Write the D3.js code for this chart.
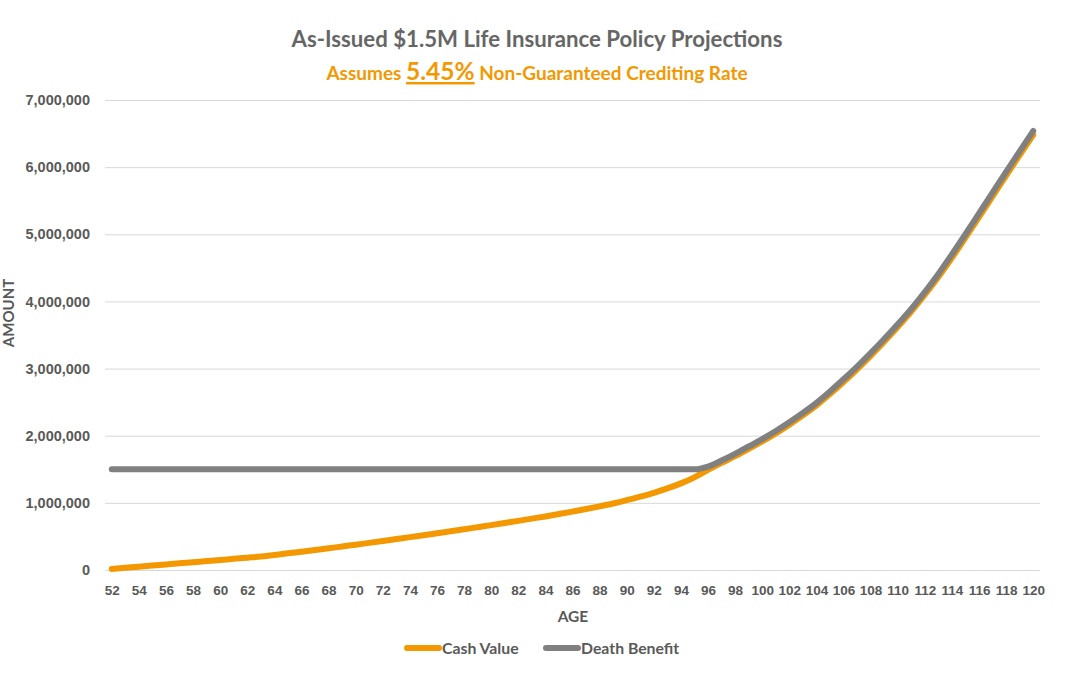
<!DOCTYPE html>
<html>
<head>
<meta charset="utf-8">
<script src="https://cdn.jsdelivr.net/npm/d3@7"></script>
<style>
  html, body { margin: 0; padding: 0; background: #fff; }
  svg { display: block; font-family: Lato, "Open Sans", sans-serif; }
</style>
</head>
<body>
<svg id="chart" width="1080" height="675"></svg>
<script>
// ages on the category axis
const ages = [52, 53, 54, 55, 56, 57, 58, 59, 60, 61, 62, 63, 64, 65, 66, 67, 68, 69, 70,
              71, 72, 73, 74, 75, 76, 77, 78, 79, 80, 81, 82, 83, 84, 85, 86, 87, 88, 89,
              90, 91, 92, 93, 94, 95, 96, 97, 98, 99, 100, 101, 102, 103, 104, 105, 106,
              107, 108, 109, 110, 111, 112, 113, 114, 115, 116, 117, 118, 119, 120];

// cash value
const cashValue = [15000, 32000, 50000, 66000, 83000, 100000, 116000, 133000, 150000, 166000,
                   183000, 200000, 224000, 248000, 273000, 298000, 323000, 350000, 377000,
                   404000, 432000, 461000, 490000, 518000, 547000, 576000, 606000, 637000,
                   668000, 700000, 732000, 765000, 798000, 833000, 870000, 908000, 948000,
                   990000, 1040000, 1093000, 1150000, 1215000, 1290000, 1380000, 1490000,
                   1595000, 1695000, 1805000, 1915000, 2035000, 2165000, 2303000, 2452000,
                   2620000, 2800000, 2990000, 3190000, 3400000, 3620000, 3850000, 4100000,
                   4365000, 4650000, 4950000, 5255000, 5565000, 5875000, 6180000, 6480000];

// death benefit
const deathBenefit = [1500000, 1500000, 1500000, 1500000, 1500000, 1500000, 1500000, 1500000,
                      1500000, 1500000, 1500000, 1500000, 1500000, 1500000, 1500000, 1500000,
                      1500000, 1500000, 1500000, 1500000, 1500000, 1500000, 1500000, 1500000,
                      1500000, 1500000, 1500000, 1500000, 1500000, 1500000, 1500000, 1500000,
                      1500000, 1500000, 1500000, 1500000, 1500000, 1500000, 1500000, 1500000,
                      1500000, 1500000, 1500000, 1500000, 1540000, 1630000, 1730000, 1840000,
                      1950000, 2070000, 2200000, 2340000, 2490000, 2660000, 2840000, 3030000,
                      3230000, 3440000, 3660000, 3890000, 4140000, 4410000, 4700000, 5000000,
                      5310000, 5620000, 5930000, 6235000, 6540000];

const yTicks = [0, 1000000, 2000000, 3000000, 4000000, 5000000, 6000000, 7000000];
const xTicks = ages.filter(a => a % 2 === 0);

const seriesNames = ["Cash Value", "Death Benefit"];
const seriesColors = ["#f39800", "#808080"];

const svg = d3.select("#chart");
const plotLeft = 105, plotRight = 1040, plotTop = 100, plotBottom = 570;
const grey = "#595959";

const x = d3.scalePoint()
    .domain(ages)
    .range([plotLeft, plotRight])
    .padding(0.5);

const y = d3.scaleLinear()
    .domain([0, 7000000])
    .range([plotBottom, plotTop]);

// gridlines + y labels
const yAxis = d3.axisLeft(y)
    .tickValues(yTicks)
    .tickSize(-(plotRight - plotLeft))
    .tickPadding(15)
    .tickFormat(d3.format(","));

const yG = svg.append("g")
    .attr("transform", `translate(${plotLeft},0)`)
    .call(yAxis);
yG.select(".domain").remove();
yG.selectAll("line").attr("stroke", "#d9d9d9").attr("stroke-width", 1);
yG.selectAll("text")
    .attr("fill", grey)
    .style("font-size", "14.5px")
    .style("font-weight", "bold");

// x labels
const xAxis = d3.axisBottom(x)
    .tickValues(xTicks)
    .tickSize(0)
    .tickPadding(15);

const xG = svg.append("g")
    .attr("transform", `translate(0,${plotBottom})`)
    .call(xAxis);
xG.select(".domain").remove();
xG.selectAll("text")
    .attr("fill", grey)
    .style("font-size", "13.5px")
    .style("font-weight", "bold");

// lines
const line = d3.line()
    .x((d, i) => x(ages[i]))
    .y(d => y(d))
    .curve(d3.curveMonotoneX);

[cashValue, deathBenefit].forEach((vals, i) => {
    svg.append("path")
        .datum(vals)
        .attr("d", line)
        .attr("fill", "none")
        .attr("stroke", seriesColors[i])
        .attr("stroke-width", 6)
        .attr("stroke-linecap", "round")
        .attr("stroke-linejoin", "round");
});

// titles
svg.append("text")
    .attr("x", 537)
    .attr("y", 47)
    .attr("text-anchor", "middle")
    .attr("fill", "#666666")
    .style("font-size", "22.2px")
    .style("font-weight", "bold")
    .text("As-Issued $1.5M Life Insurance Policy Projections");

const sub = svg.append("text")
    .attr("x", 537)
    .attr("y", 80)
    .attr("text-anchor", "middle")
    .attr("fill", "#f39800")
    .style("font-weight", "bold")
    .style("font-size", "19px");
sub.append("tspan").text("Assumes ");
sub.append("tspan")
    .style("font-size", "24.5px")
    .style("text-decoration", "underline")
    .text("5.45%");
sub.append("tspan").text(" Non-Guaranteed Crediting Rate");

// axis titles
svg.append("text")
    .attr("x", 573)
    .attr("y", 622)
    .attr("text-anchor", "middle")
    .attr("fill", grey)
    .style("font-size", "15.5px")
    .style("font-weight", "bold")
    .text("AGE");

svg.append("text")
    .attr("transform", "translate(14,313) rotate(-90)")
    .attr("text-anchor", "middle")
    .attr("fill", grey)
    .style("font-size", "15px")
    .style("font-weight", "bold")
    .text("AMOUNT");

// legend
const legendX = [404, 543];
const legend = svg.append("g");
seriesNames.forEach((name, i) => {
    legend.append("line")
        .attr("x1", legendX[i] + 3)
        .attr("x2", legendX[i] + 35)
        .attr("y1", 648)
        .attr("y2", 648)
        .attr("stroke", seriesColors[i])
        .attr("stroke-width", 6)
        .attr("stroke-linecap", "round");
    legend.append("text")
        .attr("x", legendX[i] + 38)
        .attr("y", 654)
        .attr("fill", grey)
        .style("font-size", "15.8px")
        .style("font-weight", "bold")
        .text(name);
});
</script>
</body>
</html>
